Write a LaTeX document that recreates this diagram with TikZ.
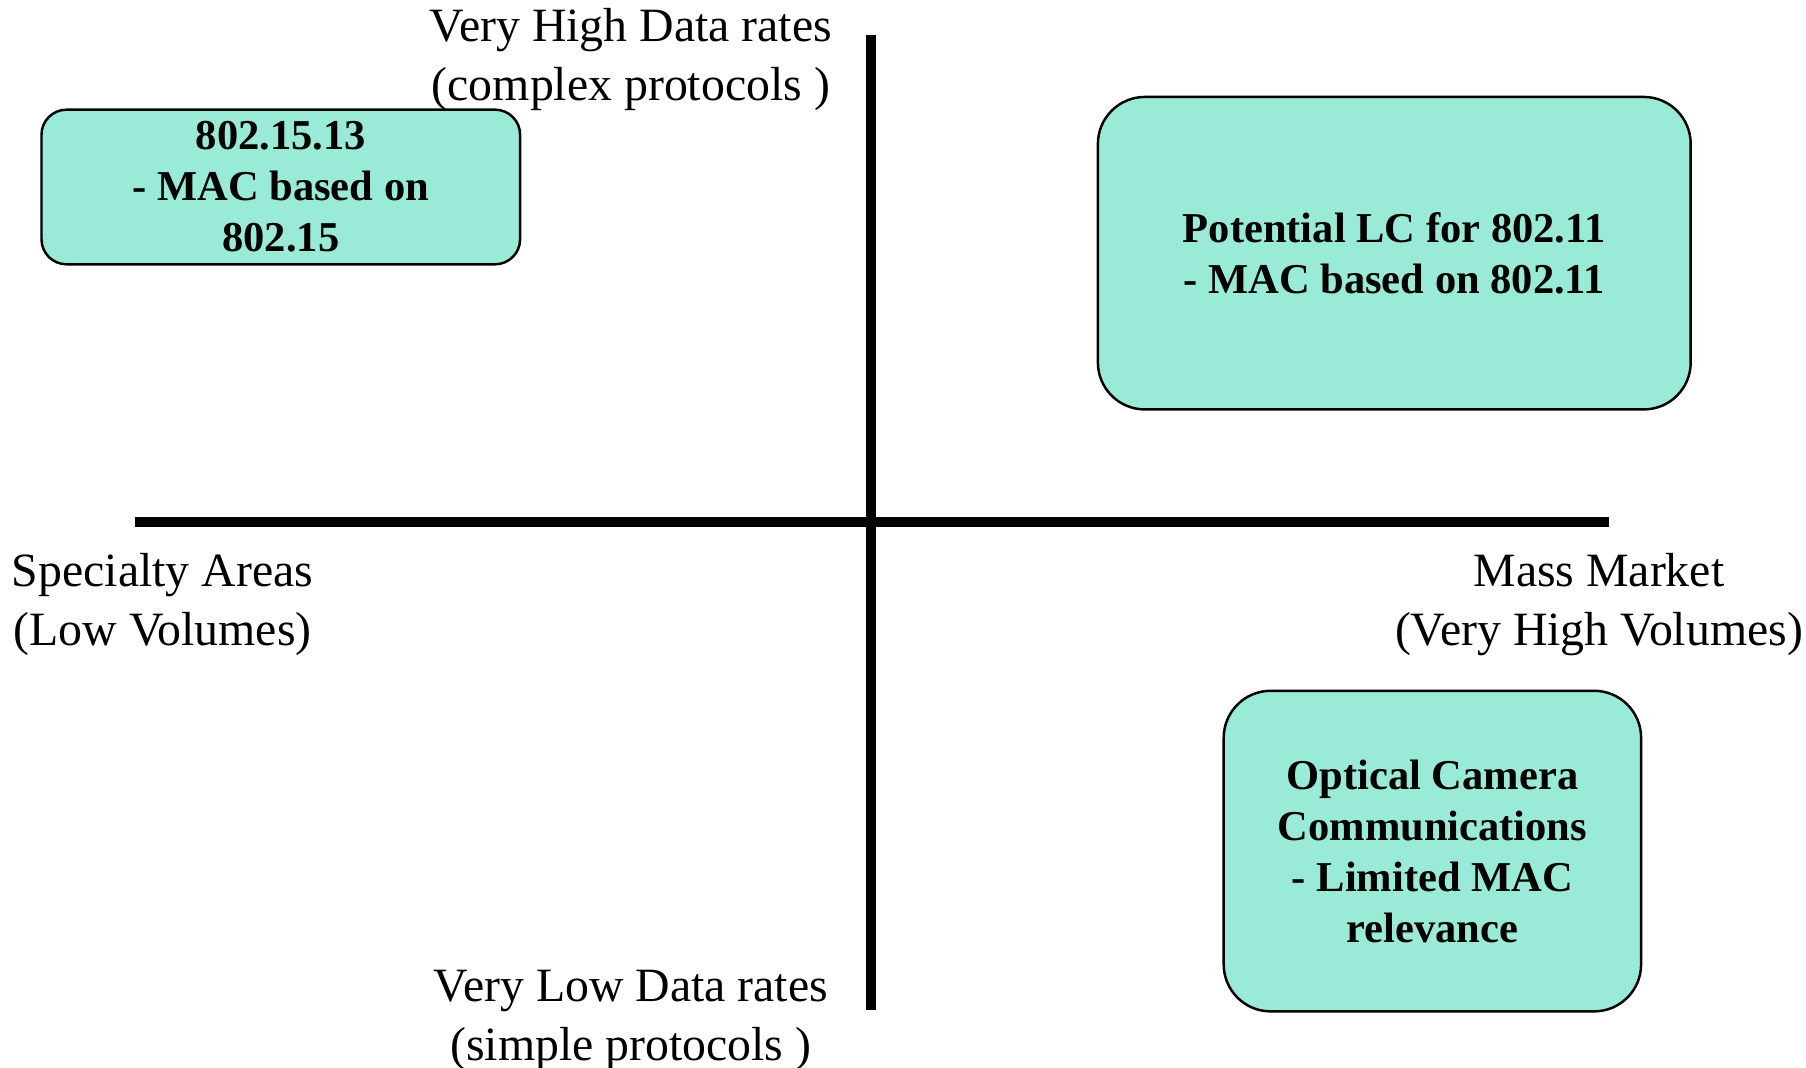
\documentclass[tikz,border=0pt]{standalone}
\usepackage{fontspec}
\setmainfont{Liberation Serif}
\usetikzlibrary{positioning}

\definecolor{aqua}{RGB}{153,234,215}

\begin{document}
\begin{tikzpicture}[axis/.style={line width=2.9pt},
	axis label/.style={align=center,font=\fontsize{13.6}{16.6}\selectfont},
	quad box/.style={draw,line width=0.7pt,fill=aqua,rounded corners=0.47cm,
		align=center,font=\fontsize{12.1}{14.5}\selectfont\bfseries}]
	
	\useasboundingbox (0,0) rectangle (18.06,10.68);
	
	% axes
	\coordinate (top) at (8.707,10.334);
	\coordinate (bottom) at (8.707,0.577);
	\coordinate (left) at (1.349,5.46);
	\coordinate (right) at (16.089,5.46);
	\draw[axis] (top) -- (bottom);
	\draw[axis] (left) -- (right);
	
	\node[axis label] (high) at (6.309,10.085) {Very High Data rates\\(complex protocols )};
	\node[axis label] (low) at (6.309,0.475) {Very Low Data rates\\(simple protocols )};
	\node[axis label] (special) at (1.626,4.635) {Specialty Areas\\(Low Volumes)};
	\node[axis label] (mass) at (15.99,4.635) {Mass Market\\(Very High Volumes)};
	
	% quadrant boxes
	\node[quad box,minimum width=4.786cm,minimum height=1.546cm,rounded corners=0.25cm]
		(wpan) at (2.808,8.81) {802.15.13\\- MAC based on\\802.15};
	\node[quad box,minimum width=5.928cm,minimum height=3.125cm]
		(wlan) at (13.943,8.148) {Potential LC for 802.11\\- MAC based on 802.11};
	\node[quad box,minimum width=4.174cm,minimum height=3.206cm]
		(occ) at (14.324,2.169) {Optical Camera\\Communications\\- Limited MAC\\relevance};
\end{tikzpicture}
\end{document}
